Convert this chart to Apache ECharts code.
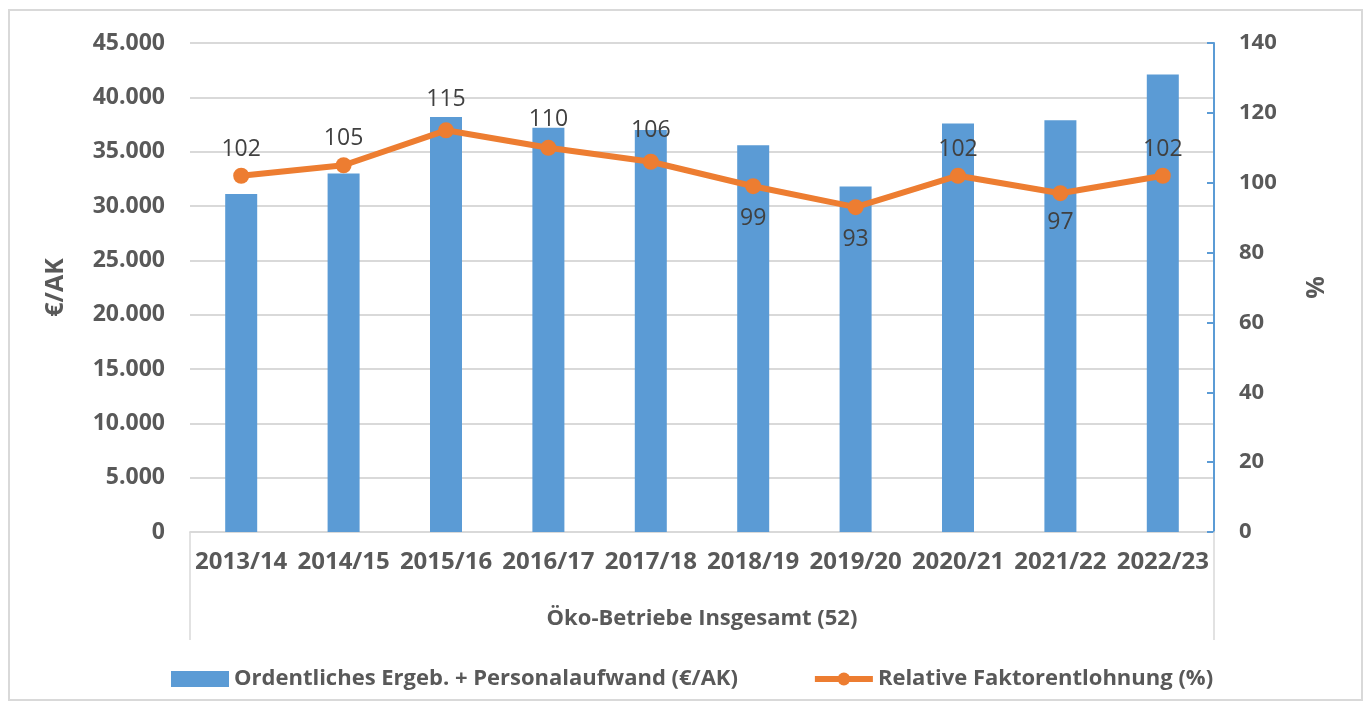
<!DOCTYPE html>
<html>
<head>
<meta charset="utf-8">
<script src="https://cdn.jsdelivr.net/npm/echarts@6/dist/echarts.min.js"></script>
<style>
  html, body { margin: 0; padding: 0; background: #fff; }
  #chart { width: 1366px; height: 711px; }
</style>
</head>
<body>
<div id="chart"></div>
<script>
// Kategorien (Wirtschaftsjahre)
const years = ["2013/14", "2014/15", "2015/16", "2016/17", "2017/18",
  "2018/19", "2019/20", "2020/21", "2021/22", "2022/23"];
// Ordentliches Ergeb. + Personalaufwand (€/AK)
const ergebnis = [31100, 33000, 38200, 37200, 37000, 35600, 31800, 37600, 37900, 42100];
// Relative Faktorentlohnung (%)
const faktor = [102, 105, 115, 110, 106, 99, 93, 102, 97, 102];
// Label-Position je Punkt
const labelPos = ["top", "top", "top", "top", "top", "bottom", "bottom", "top", "bottom", "top"];
const labelDist = [7, 7, 11, 9, 12, 13, 13, 7, 10, 7];
const group = ["Öko-Betriebe Insgesamt (52)"];

const FONT = "Open Sans";
const GREY = "#595959";
const BLUE = "#5B9BD5";
const ORANGE = "#ED7D31";

const fmt = (v) => String(v).replace(/\B(?=(\d{3})+(?!\d))/g, ".");

const chart = echarts.init(document.getElementById("chart"));
chart.setOption({
  backgroundColor: "#fff",
  textStyle: { fontFamily: FONT },
  graphic: [{
    type: "rect",
    shape: { x: 9, y: 10, width: 1353, height: 690 },
    style: { fill: "none", stroke: "#d9d9d9", lineWidth: 2 },
    silent: true,
  }],
  grid: { left: 190, right: 152, top: 43, bottom: 179 },
  legend: {
    left: 166,
    top: 663,
    itemWidth: 58,
    itemHeight: 16,
    itemGap: 74,
    textStyle: { fontFamily: FONT, fontSize: 22, fontWeight: "bold", color: GREY },
    data: [
      { name: "Ordentliches Ergeb. + Personalaufwand (€/AK)", icon: "rect" },
      { name: "Relative Faktorentlohnung (%)", lineStyle: { width: 6, color: ORANGE } },
    ],
  },
  xAxis: [
    {
      type: "category",
      data: years,
      axisLine: { lineStyle: { color: "#d9d9d9", width: 1.5 } },
      axisTick: { show: false },
      axisLabel: {
        interval: 0, margin: 18,
        fontSize: 24, fontWeight: "bold", color: GREY, fontFamily: FONT,
      },
    },
    {
      type: "category",
      data: group,
      position: "bottom",
      axisLine: { lineStyle: { color: "#d9d9d9", width: 1.5 } },
      axisTick: { show: true, length: 108, lineStyle: { color: "#d9d9d9", width: 1.5 } },
      axisLabel: {
        margin: 76, fontSize: 22, fontWeight: "bold", color: GREY, fontFamily: FONT,
      },
    },
  ],
  yAxis: [
    {
      type: "value",
      min: 0, max: 45000, interval: 5000,
      name: "€/AK",
      nameLocation: "middle",
      nameGap: 122,
      nameRotate: 90,
      nameTextStyle: { fontSize: 25, fontWeight: "bold", color: GREY, fontFamily: FONT },
      axisLine: { show: false },
      axisTick: { show: false },
      splitLine: { lineStyle: { color: "#d9d9d9", width: 2 } },
      axisLabel: {
        margin: 25, fontSize: 23, fontWeight: "bold", color: GREY, fontFamily: FONT,
        formatter: fmt,
      },
    },
    {
      type: "value",
      position: "right",
      min: 0, max: 140, interval: 20,
      name: "%",
      nameLocation: "middle",
      nameGap: 90,
      nameRotate: 90,
      nameTextStyle: { fontSize: 25, fontWeight: "bold", color: GREY, fontFamily: FONT },
      axisLine: { show: true, lineStyle: { color: BLUE, width: 2 } },
      axisTick: { show: true, inside: true, length: 7, lineStyle: { color: BLUE, width: 2 } },
      splitLine: { show: false },
      axisLabel: {
        margin: 25, fontSize: 22, fontWeight: "bold", color: GREY, fontFamily: FONT,
      },
    },
  ],
  series: [
    {
      name: "Ordentliches Ergeb. + Personalaufwand (€/AK)",
      type: "bar",
      data: ergebnis,
      barWidth: 32,
      itemStyle: { color: BLUE },
    },
    {
      name: "Relative Faktorentlohnung (%)",
      type: "line",
      yAxisIndex: 1,
      data: faktor.map((v, i) => ({
        value: v,
        label: { position: labelPos[i], distance: labelDist[i] },
      })),
      symbol: "circle",
      symbolSize: 16,
      lineStyle: { color: ORANGE, width: 6 },
      itemStyle: { color: ORANGE },
      label: {
        show: true,
        fontSize: 23,
        color: "#404040",
        fontFamily: FONT,
      },
      z: 5,
    },
  ],
});
</script>
</body>
</html>
